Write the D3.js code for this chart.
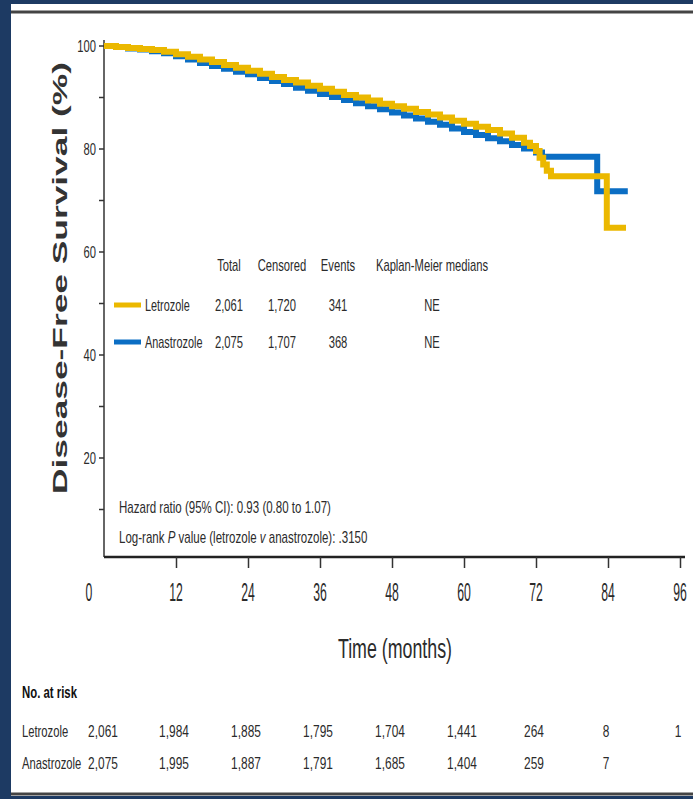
<!DOCTYPE html>
<html>
<head>
<meta charset="utf-8">
<script src="https://cdn.jsdelivr.net/npm/d3@7"></script>
<style>
  body { margin: 0; background: #fff; }
  text { font-family: "Liberation Sans", Arial, sans-serif; fill: #2b2b2b; }
</style>
</head>
<body>
<div id="chart"></div>
<script>
// survival curves (months, % disease-free)
var letTimes = [0, 2, 4, 6, 8, 10, 12, 14, 16, 18, 20, 22, 24, 26, 28, 30, 32, 34, 36, 38, 40, 42, 44, 46, 48, 50, 52, 54, 56, 58, 60, 62, 64, 66, 68, 70, 71, 72, 72.6, 73.2, 73.8, 74.5, 83.8, 87];
var letSurv  = [100, 99.8, 99.6, 99.4, 99.2, 98.9, 98.4, 97.9, 97.4, 96.9, 96.3, 95.8, 95.2, 94.6, 94.0, 93.4, 92.9, 92.3, 91.7, 91.1, 90.5, 90.0, 89.4, 88.8, 88.3, 87.8, 87.2, 86.7, 86.1, 85.5, 84.9, 84.3, 83.7, 83.0, 82.2, 81.2, 80.6, 79.6, 78.3, 77.0, 75.8, 74.7, 64.7, 64.7];
var anaTimes = [0, 2, 4, 6, 8, 10, 12, 14, 16, 18, 20, 22, 24, 26, 28, 30, 32, 34, 36, 38, 40, 42, 44, 46, 48, 50, 52, 54, 56, 58, 60, 62, 64, 66, 68, 70, 72, 73, 82.2, 87.3];
var anaSurv  = [100, 99.8, 99.5, 99.3, 99.0, 98.6, 98.0, 97.4, 96.7, 96.1, 95.6, 95.0, 94.5, 93.8, 93.2, 92.6, 91.9, 91.3, 90.7, 90.1, 89.5, 88.9, 88.3, 87.7, 87.1, 86.5, 85.9, 85.3, 84.7, 84.0, 83.3, 82.7, 82.1, 81.5, 80.8, 80.1, 79.3, 78.5, 71.8, 71.8];

var xTicks = [0, 12, 24, 36, 48, 60, 72, 84, 96];
var yTicks = [20, 40, 60, 80, 100];
var yMinor = [10, 30, 50, 70, 90];

// number at risk
var riskTimes = [0, 12, 24, 36, 48, 60, 72, 84, 96];
var letRisk = ["2,061", "1,984", "1,885", "1,795", "1,704", "1,441", "264", "8", "1"];
var anaRisk = ["2,075", "1,995", "1,887", "1,791", "1,685", "1,404", "259", "7"];

// legend table
var legHeaders = ["Total", "Censored", "Events", "Kaplan-Meier medians"];
var legNames = ["Letrozole", "Anastrozole"];
var legRows = [["2,061", "1,720", "341", "NE"], ["2,075", "1,707", "368", "NE"]];

var W = 693, H = 799;
var yellow = "#ebb800", blue = "#0b6ec4";

var svg = d3.select("#chart").append("svg")
    .attr("width", W)
    .attr("height", H);

// squeezed text, the picture's lettering is narrow
function ctext(parent, px, py, str, size, sx, anchor) {
    return parent.append("text")
        .attr("transform", "translate(" + px + "," + py + ") scale(" + sx + ",1)")
        .style("font-size", size + "px")
        .style("text-anchor", anchor || "start")
        .text(str);
}

// frame
svg.append("rect").attr("x", 0).attr("y", 0).attr("width", W).attr("height", H).style("fill", "#1d3a63");
svg.append("rect").attr("x", 11).attr("y", 4).attr("width", W - 11).attr("height", 792).style("fill", "#fff");
svg.append("line").attr("x1", 11).attr("x2", W).attr("y1", 12).attr("y2", 12).style("stroke", "#444").style("stroke-width", 3);
svg.append("line").attr("x1", 11).attr("x2", W).attr("y1", 794).attr("y2", 794).style("stroke", "#444").style("stroke-width", 3);

var x = d3.scaleLinear().domain([0, 96]).range([104, 680]);
var y = d3.scaleLinear().domain([0, 100]).range([561, 46]);

// y axis
var yAxis = svg.append("g").attr("transform", "translate(104,0)");
yAxis.append("line").attr("x1", 0).attr("x2", 0).attr("y1", 40).attr("y2", 557).style("stroke", "#333").style("stroke-width", 1.5);
yAxis.selectAll(".maj").data(yTicks.concat(yMinor)).enter().append("line")
    .attr("x1", -5).attr("x2", 0)
    .attr("y1", function(d) { return y(d); }).attr("y2", function(d) { return y(d); })
    .style("stroke", "#333").style("stroke-width", 1.5);
yTicks.forEach(function(d) {
    ctext(yAxis, -8, y(d) + 6, d, 17, 0.66, "end");
});

svg.append("text")
    .attr("transform", "translate(67,278) rotate(-90) scale(1,0.8)")
    .style("text-anchor", "middle")
    .style("font-weight", "bold")
    .style("font-size", "25px")
    .style("fill", "#333")
    .attr("textLength", 432)
    .attr("lengthAdjust", "spacingAndGlyphs")
    .text("Disease-Free Survival (%)");

// x axis
var xAxis = d3.axisBottom(x).tickValues(xTicks).tickSize(11).tickSizeOuter(0).tickFormat("");
var gx = svg.append("g").attr("transform", "translate(0,557)").call(xAxis);
gx.select(".domain").attr("d", "M104,0H685").style("stroke", "#222").style("stroke-width", 2.5);
gx.selectAll(".tick line").style("stroke", "#333").style("stroke-width", 1.5)
    .filter(function(d) { return d === 0; }).remove();
xTicks.forEach(function(d) {
    ctext(svg, d === 0 ? x(d) - 15 : x(d), 601, d, 26, 0.47, "middle");
});

ctext(svg, 395, 658, "Time (months)", 27, 0.66, "middle");

// curves
var line = d3.line()
    .x(function(d) { return x(d[0]); })
    .y(function(d) { return y(d[1]); })
    .curve(d3.curveStepAfter);

svg.append("path")
    .datum(d3.zip(anaTimes, anaSurv))
    .attr("d", line)
    .style("fill", "none").style("stroke", blue).style("stroke-width", 6);
svg.append("path")
    .datum(d3.zip(letTimes, letSurv))
    .attr("d", line)
    .style("fill", "none").style("stroke", yellow).style("stroke-width", 6);

// legend table
var colX = [229, 282, 338, 432];
legHeaders.forEach(function(h, i) {
    ctext(svg, colX[i], 271, h, 17, 0.66, "middle");
});

var legColors = [yellow, blue];
legNames.forEach(function(name, i) {
    var yy = 305 + i * 37;
    svg.append("line")
        .attr("x1", 114).attr("x2", 141)
        .attr("y1", yy).attr("y2", yy)
        .style("stroke", legColors[i])
        .style("stroke-width", 5);
    ctext(svg, 145, yy + 6, name, 17, 0.64);
    legRows[i].forEach(function(v, j) {
        ctext(svg, colX[j], yy + 6, v, 17, 0.66, "middle");
    });
});

// hazard ratio note
ctext(svg, 119, 513, "Hazard ratio (95% CI): 0.93 (0.80 to 1.07)", 16, 0.72);
var lr = svg.append("text")
    .attr("transform", "translate(119,543) scale(0.72,1)")
    .style("font-size", "16px");
lr.append("tspan").text("Log-rank ");
lr.append("tspan").style("font-style", "italic").text("P");
lr.append("tspan").text(" value (letrozole ");
lr.append("tspan").style("font-style", "italic").text("v");
lr.append("tspan").text(" anastrozole): .3150");

// number at risk table
ctext(svg, 22, 698, "No. at risk", 17, 0.67).style("font-weight", "bold").style("fill", "#111");

var riskRows = [letRisk, anaRisk];
var riskNames = ["Letrozole", "Anastrozole"];
riskRows.forEach(function(row, r) {
    var yy = 737 + r * 32;
    ctext(svg, 22, yy, riskNames[r], 17, 0.66);
    row.forEach(function(d, i) {
        ctext(svg, i === 0 ? 103 : x(riskTimes[i]) - 2, yy, d, 17, 0.7, "middle");
    });
});
</script>
</body>
</html>
